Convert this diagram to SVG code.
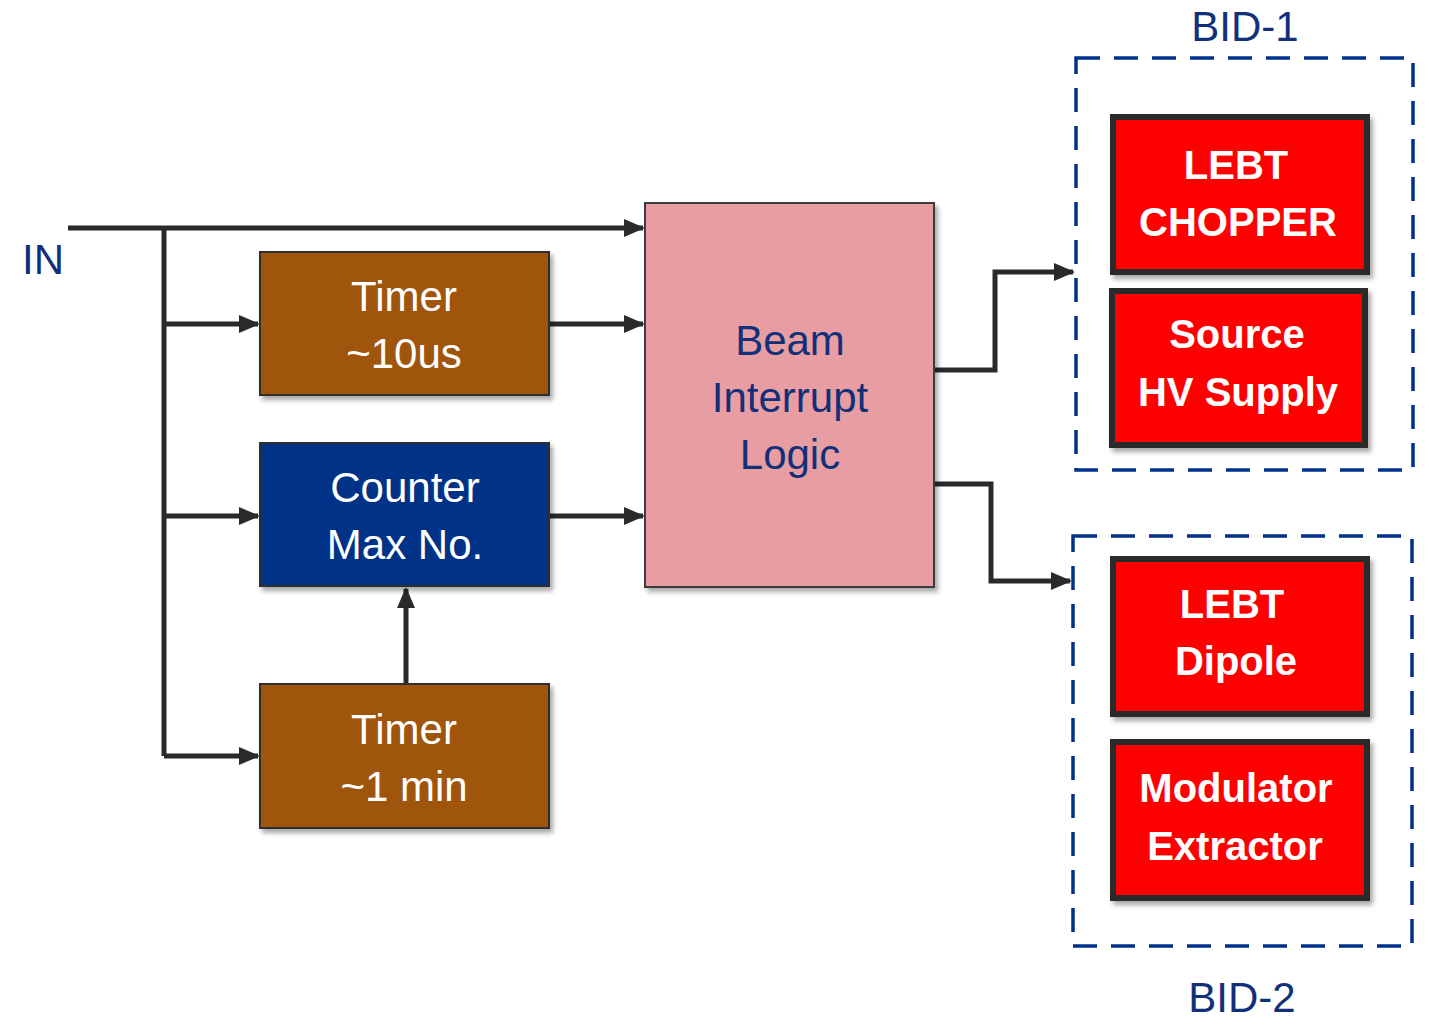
<svg xmlns="http://www.w3.org/2000/svg" width="1430" height="1033" viewBox="0 0 1430 1033">
<defs>
<marker id="ah" markerWidth="4.2" markerHeight="3.6" refX="3.8" refY="1.8" orient="auto" markerUnits="strokeWidth">
<path d="M0,0 L4.2,1.8 L0,3.6 Z" fill="#2a2a2a"/>
</marker>
<filter id="sh" x="-10%" y="-10%" width="125%" height="125%">
<feGaussianBlur in="SourceAlpha" stdDeviation="2.5"/>
<feOffset dx="3" dy="4" result="b"/>
<feComponentTransfer><feFuncA type="linear" slope="0.35"/></feComponentTransfer>
<feMerge><feMergeNode/><feMergeNode in="SourceGraphic"/></feMerge>
</filter>
</defs>
<style>
.t{font-family:"Liberation Sans",Arial,sans-serif;font-size:42px;text-anchor:middle}
.w{fill:#ffffff}
.n{fill:#12307a}
.b{font-weight:bold;font-size:40px}
.brown{fill:#a0540a;stroke:#2e2e2e;stroke-width:2}
.blue{fill:#003087;stroke:#2e2e2e;stroke-width:2}
.pink{fill:#e89da3;stroke:#3a3a3a;stroke-width:2}
.red{fill:#ff0000;stroke:#2a2a2a;stroke-width:6}
.dash{fill:none;stroke:#00308a;stroke-width:3.5;stroke-dasharray:24,14}
.c{fill:none;stroke:#2a2a2a;stroke-width:5}
</style>
<rect width="1430" height="1033" fill="#ffffff"/>

<g id="connectors">
<path class="c" d="M68,228 H643" marker-end="url(#ah)"/>
<path class="c" d="M164,228 V756"/>
<path class="c" d="M164,324 H258" marker-end="url(#ah)"/>
<path class="c" d="M164,516 H258" marker-end="url(#ah)"/>
<path class="c" d="M164,756 H258" marker-end="url(#ah)"/>
<path class="c" d="M549,324 H643" marker-end="url(#ah)"/>
<path class="c" d="M549,516 H643" marker-end="url(#ah)"/>
<path class="c" d="M406,684 V589" marker-end="url(#ah)"/>
<path class="c" d="M934,370 H995 V272 H1073" marker-end="url(#ah)"/>
<path class="c" d="M934,484 H991 V581 H1070" marker-end="url(#ah)"/>
</g>

<g id="in-label"><text class="t n" x="43" y="274">IN</text></g>

<g id="timer10">
<rect class="brown" x="260" y="252" width="289" height="143" filter="url(#sh)"/>
<text class="t w" x="404" y="311">Timer</text>
<text class="t w" x="404" y="368">~10us</text>
</g>

<g id="counter">
<rect class="blue" x="260" y="443" width="289" height="143" filter="url(#sh)"/>
<text class="t w" x="405" y="502">Counter</text>
<text class="t w" x="405" y="559">Max No.</text>
</g>

<g id="timer1min">
<rect class="brown" x="260" y="684" width="289" height="144" filter="url(#sh)"/>
<text class="t w" x="404" y="744">Timer</text>
<text class="t w" x="404" y="801">~1 min</text>
</g>

<g id="beam">
<rect class="pink" x="645" y="203" width="289" height="384" filter="url(#sh)"/>
<text class="t n" x="790" y="355">Beam</text>
<text class="t n" x="790" y="412">Interrupt</text>
<text class="t n" x="790" y="469">Logic</text>
</g>

<g id="bid1">
<rect class="dash" x="1076" y="58" width="337" height="412"/>
<text class="t n" x="1245" y="41">BID-1</text>
</g>

<g id="bid2">
<rect class="dash" x="1073" y="536" width="339" height="410"/>
<text class="t n" x="1242" y="1012">BID-2</text>
</g>

<g id="lebt-chopper">
<rect class="red" x="1113" y="117" width="254" height="155" filter="url(#sh)"/>
<text class="t w b" x="1236" y="179">LEBT</text>
<text class="t w b" x="1238" y="236">CHOPPER</text>
</g>

<g id="source-hv">
<rect class="red" x="1112" y="291" width="253" height="154" filter="url(#sh)"/>
<text class="t w b" x="1237" y="348">Source</text>
<text class="t w b" x="1238" y="406">HV Supply</text>
</g>

<g id="lebt-dipole">
<rect class="red" x="1113" y="559" width="254" height="155" filter="url(#sh)"/>
<text class="t w b" x="1232" y="618">LEBT</text>
<text class="t w b" x="1236" y="675">Dipole</text>
</g>

<g id="modulator">
<rect class="red" x="1113" y="742" width="254" height="156" filter="url(#sh)"/>
<text class="t w b" x="1236" y="802">Modulator</text>
<text class="t w b" x="1235" y="860">Extractor</text>
</g>
</svg>
